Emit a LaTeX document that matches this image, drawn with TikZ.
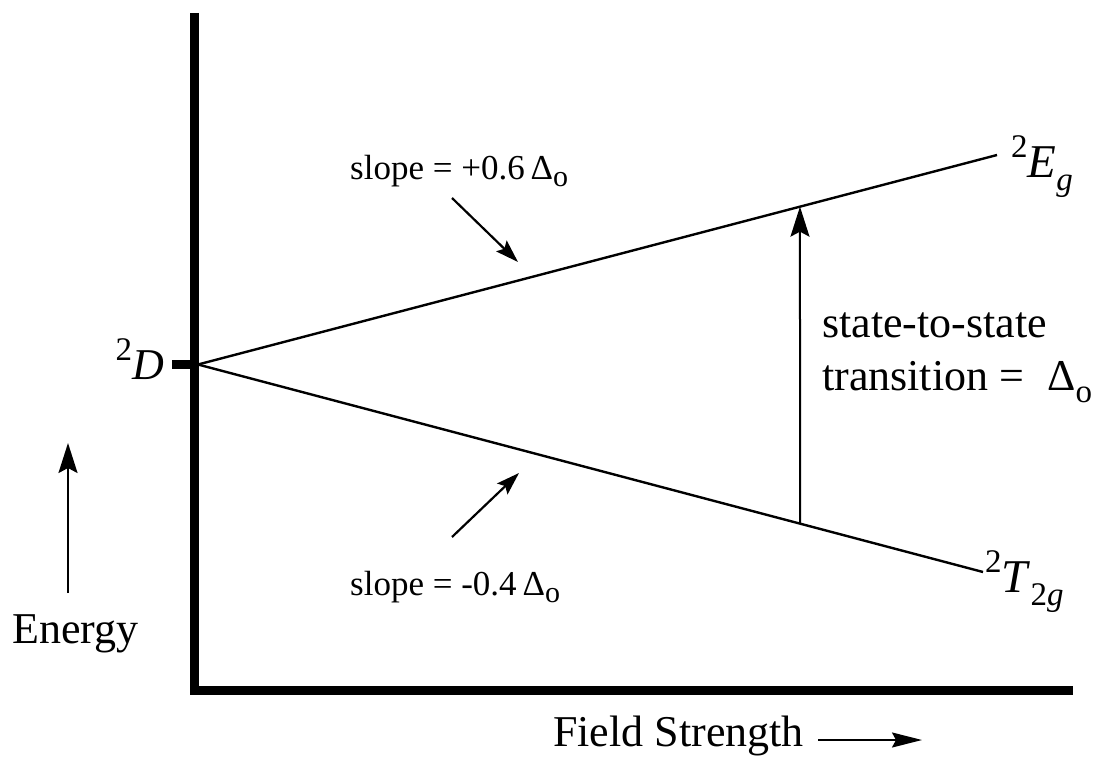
\documentclass[tikz,border=0pt]{standalone}
\usepackage{fontspec}
\setmainfont{Liberation Serif}
\usetikzlibrary{arrows.meta,calc}
\newcommand{\mysup}[1]{\raisebox{0.42em}{\fontsize{33}{36}\selectfont #1}}
\newcommand{\mysub}[1]{\raisebox{-0.28em}{\fontsize{33}{36}\selectfont #1}}
\newcommand{\smallsub}[1]{\raisebox{-0.2em}{\fontsize{30}{34}\selectfont #1}}
\begin{document}
\begin{tikzpicture}[x=1pt,y=-1pt,
  axis/.style={line width=9pt},
  level/.style={line width=2.4pt},
  bigarrow/.style={line width=2pt,-{Stealth[length=30pt,width=19pt,inset=5pt]}},
  smallarrow/.style={line width=2.2pt,-{Stealth[length=23pt,width=15pt,inset=4pt]}},
  fieldarrow/.style={line width=2pt,-{Stealth[length=30pt,width=15pt,inset=4pt]}},
  big/.style={inner sep=0pt,font=\fontsize{44}{53}\selectfont},
  mathlab/.style={inner sep=0pt,font=\fontsize{47}{53}\selectfont},
  small/.style={inner sep=0pt,font=\fontsize{35}{40}\selectfont}]
\useasboundingbox (0,0) rectangle (1094,757);
% axes
\coordinate (ytop) at (194.5,13);
\coordinate (ybot) at (194.5,695);
\coordinate (xleft) at (190,690.5);
\coordinate (xright) at (1073,690.5);
\draw[axis] (ytop) -- (ybot);
\draw[axis] (xleft) -- (xright);
% tick at 2D
\coordinate (O) at (198,364.5);
\coordinate (tick) at (172,364.5);
\draw[axis] (tick) -- (O);
% levels
\coordinate (Eend) at (997,155);
\coordinate (Tend) at (983,572);
\draw[level] (O) -- (Eend);
\draw[level] (O) -- (Tend);
% transition arrow
\coordinate (up) at ($(O)!0.7534!(Eend)$);
\coordinate (lo) at ($(O)!0.7669!(Tend)$);
\draw[bigarrow] (lo) -- (up);
% labels
\node[big,anchor=base east] (D) at (164,379) {\mysup{2}\textit{D}};
\node[mathlab,anchor=base west] (Eg) at (1011,177) {\mysup{2}\textit{E}\mysub{\textit{g}}};
\node[mathlab,anchor=base west] (Tg) at (985,592) {\mysup{2}\textit{T}\mysub{2\textit{g}}};
\node[big,anchor=base west,align=left] (trans) at (822,390) {state-to-state\\transition = \;Δ\mysub{o}};
% slope labels
\node[small,anchor=base west] (s1) at (350,179) {slope = +0.6\,Δ\smallsub{o}};
\node[small,anchor=base west] (s2) at (350,595) {slope = -0.4\,Δ\smallsub{o}};
\coordinate (s1a) at (452,198);
\coordinate (s1b) at (518,262);
\draw[smallarrow] (s1a) -- (s1b);
\coordinate (s2a) at (452,537);
\coordinate (s2b) at (519,473);
\draw[smallarrow] (s2a) -- (s2b);
% energy
\node[big,anchor=base west] (en) at (12,643) {Energy};
\coordinate (ea) at (68,593);
\coordinate (eb) at (68,443);
\draw[bigarrow] (ea) -- (eb);
% field strength
\node[big,anchor=base west] (fs) at (553,746) {Field Strength};
\coordinate (fa) at (818,740);
\coordinate (fb) at (922,740);
\draw[fieldarrow] (fa) -- (fb);
\end{tikzpicture}
\end{document}
